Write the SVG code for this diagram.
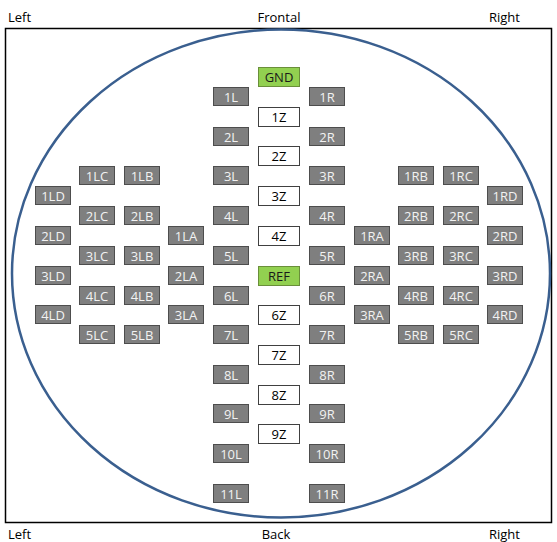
<svg xmlns="http://www.w3.org/2000/svg" width="557" height="542" viewBox="0 0 557 542">
<style>
text{font-family:"Open Sans","Liberation Sans",sans-serif;font-size:13px;text-anchor:middle}
.g rect{fill:#7F7F7F;stroke:#4D4D4D;stroke-width:1}
.g text{fill:#F2F2F2}
.z rect{fill:#FFFFFF;stroke:#404040;stroke-width:1}
.z text{fill:#000}
.n rect{fill:#92D050;stroke:#6A8F3A;stroke-width:1}
.n text{fill:#1A1A1A}
.lbl{text-anchor:start;fill:#000}
</style>
<rect width="557" height="542" fill="#fff"/>
<rect x="5.5" y="28.5" width="546" height="494" fill="none" stroke="#000" stroke-width="1.5"/>
<ellipse cx="281" cy="273.5" rx="269" ry="244" fill="none" stroke="#3A5F8F" stroke-width="2.5"/>
<text class="lbl" x="8" y="22">Left</text>
<text x="279" y="22">Frontal</text>
<text class="lbl" x="489" y="22">Right</text>
<text class="lbl" x="8" y="539">Left</text>
<text x="276" y="539">Back</text>
<text class="lbl" x="489" y="539">Right</text>
<g id="GND" class="n"><rect x="258.5" y="67.5" width="41" height="19"/><text x="279" y="82">GND</text></g>
<g id="1Z" class="z"><rect x="258.5" y="107.5" width="41" height="19"/><text x="279" y="122">1Z</text></g>
<g id="2Z" class="z"><rect x="258.5" y="146.5" width="41" height="19"/><text x="279" y="161">2Z</text></g>
<g id="3Z" class="z"><rect x="258.5" y="186.5" width="41" height="19"/><text x="279" y="201">3Z</text></g>
<g id="4Z" class="z"><rect x="258.5" y="226.5" width="41" height="19"/><text x="279" y="241">4Z</text></g>
<g id="REF" class="n"><rect x="258.5" y="266.5" width="41" height="19"/><text x="279" y="281">REF</text></g>
<g id="6Z" class="z"><rect x="258.5" y="305.5" width="41" height="19"/><text x="279" y="320">6Z</text></g>
<g id="7Z" class="z"><rect x="258.5" y="345.5" width="41" height="19"/><text x="279" y="360">7Z</text></g>
<g id="8Z" class="z"><rect x="258.5" y="385.5" width="41" height="19"/><text x="279" y="400">8Z</text></g>
<g id="9Z" class="z"><rect x="258.5" y="424.5" width="41" height="19"/><text x="279" y="439">9Z</text></g>
<g id="1L" class="g"><rect x="213.5" y="87.5" width="35" height="18"/><text x="231" y="101.5">1L</text></g>
<g id="2L" class="g"><rect x="213.5" y="127.5" width="35" height="18"/><text x="231" y="141.5">2L</text></g>
<g id="3L" class="g"><rect x="213.5" y="166.5" width="35" height="18"/><text x="231" y="180.5">3L</text></g>
<g id="4L" class="g"><rect x="213.5" y="206.5" width="35" height="18"/><text x="231" y="220.5">4L</text></g>
<g id="5L" class="g"><rect x="213.5" y="246.5" width="35" height="18"/><text x="231" y="260.5">5L</text></g>
<g id="6L" class="g"><rect x="213.5" y="286.5" width="35" height="18"/><text x="231" y="300.5">6L</text></g>
<g id="7L" class="g"><rect x="213.5" y="325.5" width="35" height="18"/><text x="231" y="339.5">7L</text></g>
<g id="8L" class="g"><rect x="213.5" y="365.5" width="35" height="18"/><text x="231" y="379.5">8L</text></g>
<g id="9L" class="g"><rect x="213.5" y="404.5" width="35" height="18"/><text x="231" y="418.5">9L</text></g>
<g id="10L" class="g"><rect x="213.5" y="444.5" width="35" height="18"/><text x="231" y="458.5">10L</text></g>
<g id="11L" class="g"><rect x="213.5" y="484.5" width="35" height="18"/><text x="231" y="498.5">11L</text></g>
<g id="1R" class="g"><rect x="309.5" y="87.5" width="35" height="18"/><text x="327" y="101.5">1R</text></g>
<g id="2R" class="g"><rect x="309.5" y="127.5" width="35" height="18"/><text x="327" y="141.5">2R</text></g>
<g id="3R" class="g"><rect x="309.5" y="166.5" width="35" height="18"/><text x="327" y="180.5">3R</text></g>
<g id="4R" class="g"><rect x="309.5" y="206.5" width="35" height="18"/><text x="327" y="220.5">4R</text></g>
<g id="5R" class="g"><rect x="309.5" y="246.5" width="35" height="18"/><text x="327" y="260.5">5R</text></g>
<g id="6R" class="g"><rect x="309.5" y="286.5" width="35" height="18"/><text x="327" y="300.5">6R</text></g>
<g id="7R" class="g"><rect x="309.5" y="325.5" width="35" height="18"/><text x="327" y="339.5">7R</text></g>
<g id="8R" class="g"><rect x="309.5" y="365.5" width="35" height="18"/><text x="327" y="379.5">8R</text></g>
<g id="9R" class="g"><rect x="309.5" y="404.5" width="35" height="18"/><text x="327" y="418.5">9R</text></g>
<g id="10R" class="g"><rect x="309.5" y="444.5" width="35" height="18"/><text x="327" y="458.5">10R</text></g>
<g id="11R" class="g"><rect x="309.5" y="484.5" width="35" height="18"/><text x="327" y="498.5">11R</text></g>
<g id="1LA" class="g"><rect x="168.5" y="226.5" width="35" height="18"/><text x="186" y="240.5">1LA</text></g>
<g id="2LA" class="g"><rect x="168.5" y="266.5" width="35" height="18"/><text x="186" y="280.5">2LA</text></g>
<g id="3LA" class="g"><rect x="168.5" y="305.5" width="35" height="18"/><text x="186" y="319.5">3LA</text></g>
<g id="1LB" class="g"><rect x="124.5" y="166.5" width="35" height="18"/><text x="142" y="180.5">1LB</text></g>
<g id="2LB" class="g"><rect x="124.5" y="206.5" width="35" height="18"/><text x="142" y="220.5">2LB</text></g>
<g id="3LB" class="g"><rect x="124.5" y="246.5" width="35" height="18"/><text x="142" y="260.5">3LB</text></g>
<g id="4LB" class="g"><rect x="124.5" y="286.5" width="35" height="18"/><text x="142" y="300.5">4LB</text></g>
<g id="5LB" class="g"><rect x="124.5" y="325.5" width="35" height="18"/><text x="142" y="339.5">5LB</text></g>
<g id="1LC" class="g"><rect x="79.5" y="166.5" width="35" height="18"/><text x="97" y="180.5">1LC</text></g>
<g id="2LC" class="g"><rect x="79.5" y="206.5" width="35" height="18"/><text x="97" y="220.5">2LC</text></g>
<g id="3LC" class="g"><rect x="79.5" y="246.5" width="35" height="18"/><text x="97" y="260.5">3LC</text></g>
<g id="4LC" class="g"><rect x="79.5" y="286.5" width="35" height="18"/><text x="97" y="300.5">4LC</text></g>
<g id="5LC" class="g"><rect x="79.5" y="325.5" width="35" height="18"/><text x="97" y="339.5">5LC</text></g>
<g id="1LD" class="g"><rect x="35.5" y="186.5" width="35" height="18"/><text x="53" y="200.5">1LD</text></g>
<g id="2LD" class="g"><rect x="35.5" y="226.5" width="35" height="18"/><text x="53" y="240.5">2LD</text></g>
<g id="3LD" class="g"><rect x="35.5" y="266.5" width="35" height="18"/><text x="53" y="280.5">3LD</text></g>
<g id="4LD" class="g"><rect x="35.5" y="305.5" width="35" height="18"/><text x="53" y="319.5">4LD</text></g>
<g id="1RA" class="g"><rect x="354.5" y="226.5" width="35" height="18"/><text x="372" y="240.5">1RA</text></g>
<g id="2RA" class="g"><rect x="354.5" y="266.5" width="35" height="18"/><text x="372" y="280.5">2RA</text></g>
<g id="3RA" class="g"><rect x="354.5" y="305.5" width="35" height="18"/><text x="372" y="319.5">3RA</text></g>
<g id="1RB" class="g"><rect x="398.5" y="166.5" width="35" height="18"/><text x="416" y="180.5">1RB</text></g>
<g id="2RB" class="g"><rect x="398.5" y="206.5" width="35" height="18"/><text x="416" y="220.5">2RB</text></g>
<g id="3RB" class="g"><rect x="398.5" y="246.5" width="35" height="18"/><text x="416" y="260.5">3RB</text></g>
<g id="4RB" class="g"><rect x="398.5" y="286.5" width="35" height="18"/><text x="416" y="300.5">4RB</text></g>
<g id="5RB" class="g"><rect x="398.5" y="325.5" width="35" height="18"/><text x="416" y="339.5">5RB</text></g>
<g id="1RC" class="g"><rect x="443.5" y="166.5" width="35" height="18"/><text x="461" y="180.5">1RC</text></g>
<g id="2RC" class="g"><rect x="443.5" y="206.5" width="35" height="18"/><text x="461" y="220.5">2RC</text></g>
<g id="3RC" class="g"><rect x="443.5" y="246.5" width="35" height="18"/><text x="461" y="260.5">3RC</text></g>
<g id="4RC" class="g"><rect x="443.5" y="286.5" width="35" height="18"/><text x="461" y="300.5">4RC</text></g>
<g id="5RC" class="g"><rect x="443.5" y="325.5" width="35" height="18"/><text x="461" y="339.5">5RC</text></g>
<g id="1RD" class="g"><rect x="487.5" y="186.5" width="35" height="18"/><text x="505" y="200.5">1RD</text></g>
<g id="2RD" class="g"><rect x="487.5" y="226.5" width="35" height="18"/><text x="505" y="240.5">2RD</text></g>
<g id="3RD" class="g"><rect x="487.5" y="266.5" width="35" height="18"/><text x="505" y="280.5">3RD</text></g>
<g id="4RD" class="g"><rect x="487.5" y="305.5" width="35" height="18"/><text x="505" y="319.5">4RD</text></g>
<g id="connectors"></g>
</svg>
